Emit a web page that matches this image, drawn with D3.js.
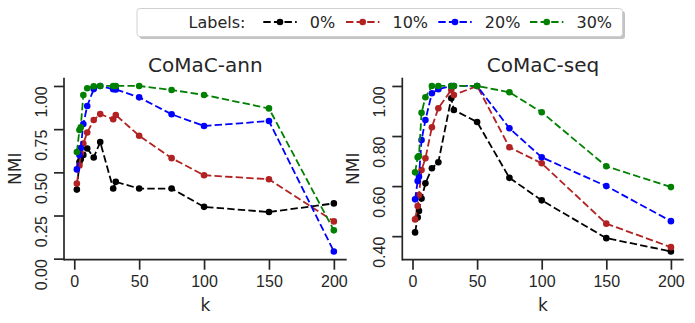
<!DOCTYPE html>
<html>
<head>
<meta charset="utf-8">
<script src="https://cdn.jsdelivr.net/npm/d3@7"></script>
<style>
  body { margin: 0; background: #fff; }
  svg { font-family: "DejaVu Sans", sans-serif; }
</style>
</head>
<body>
<div id="chart"></div>
<script>
// k values (shared by both panels)
var kValues = [2, 4, 5, 7, 10, 15, 20, 30, 32, 50, 75, 100, 150, 200];

// CoMaC-ann
var ann0  = [0.40, 0.56, 0.575, 0.60, 0.638, 0.586, 0.675, 0.406, 0.445, 0.406, 0.406, 0.30, 0.27, 0.32];
var ann10 = [0.435, 0.54, 0.61, 0.667, 0.731, 0.803, 0.837, 0.807, 0.832, 0.712, 0.582, 0.483, 0.46, 0.216];
var ann20 = [0.517, 0.60, 0.64, 0.78, 0.884, 0.982, 1.0, 0.981, 0.98, 0.934, 0.836, 0.768, 0.797, 0.042];
var ann30 = [0.617, 0.745, 0.76, 0.948, 0.987, 0.998, 1.0, 1.0, 1.0, 1.0, 0.977, 0.948, 0.87, 0.164];

// CoMaC-seq
var seq0  = [0.415, 0.475, 0.501, 0.55, 0.611, 0.671, 0.695, 0.951, 0.904, 0.856, 0.633, 0.543, 0.392, 0.339];
var seq10 = [0.467, 0.52, 0.564, 0.664, 0.711, 0.835, 0.911, 0.984, 0.964, 1.0, 0.755, 0.691, 0.45, 0.356];
var seq20 = [0.547, 0.62, 0.637, 0.784, 0.864, 0.971, 0.987, 1.0, 1.0, 1.0, 0.831, 0.715, 0.60, 0.46];
var seq30 = [0.655, 0.715, 0.72, 0.893, 0.955, 1.0, 1.0, 1.0, 1.0, 1.0, 0.975, 0.895, 0.679, 0.596];

var seriesLabels = ["0%", "10%", "20%", "30%"];
var seriesColors = ["#000000", "#b22222", "#0000ff", "#008000"];
var xTicks = [0, 50, 100, 150, 200];
var annYTicks = [0, 0.25, 0.5, 0.75, 1.0];
var seqYTicks = [0.4, 0.6, 0.8, 1.0];

var width = 695, height = 323;
var top0 = 77.7, bottom0 = 259.7;

var panels = [
  { title: "CoMaC-ann", series: [ann0, ann10, ann20, ann30], yTicks: annYTicks, left: 64, right: 346.7 },
  { title: "CoMaC-seq", series: [seq0, seq10, seq20, seq30], yTicks: seqYTicks, left: 402.3, right: 683.7 }
];

var svg = d3.select("#chart").append("svg")
  .attr("width", width)
  .attr("height", height)
  .attr("viewBox", [0, 0, width, height]);

// matplotlib style 5% margins
function padded(ext) {
  var d = ext[1] - ext[0];
  return [ext[0] - 0.05 * d, ext[1] + 0.05 * d];
}

var tickFont = 16;
var textColor = "#262626";
var dash = "7.4,3.2";

panels.forEach(function (p) {
  var allY = d3.merge(p.series);
  var x = d3.scaleLinear().domain(padded(d3.extent(kValues))).range([p.left, p.right]);
  var y = d3.scaleLinear().domain(padded(d3.extent(allY))).range([bottom0, top0]);

  var g = svg.append("g");

  // x axis
  var gx = g.append("g")
    .attr("transform", `translate(0,${bottom0})`)
    .call(d3.axisBottom(x).tickValues(xTicks).tickFormat(d3.format("d")).tickSize(10).tickPadding(5.5).tickSizeOuter(0));
  gx.select(".domain").remove();
  gx.selectAll("line").attr("stroke", textColor).attr("stroke-width", 1.7);
  gx.selectAll("text").attr("font-size", tickFont).attr("fill", textColor);

  // y axis with rotated labels
  var gy = g.append("g")
    .attr("transform", `translate(${p.left},0)`)
    .call(d3.axisLeft(y).tickValues(p.yTicks).tickFormat(d3.format(".2f")).tickSize(10).tickSizeOuter(0));
  gy.select(".domain").remove();
  gy.selectAll("line").attr("stroke", textColor).attr("stroke-width", 1.7);
  gy.selectAll("text")
    .attr("x", null).attr("dy", null)
    .attr("transform", "translate(-23,0) rotate(-90)")
    .attr("text-anchor", "end")
    .attr("dominant-baseline", "central")
    .attr("font-size", tickFont)
    .attr("fill", textColor);

  // spines (left + bottom only)
  g.append("line").attr("x1", p.left).attr("x2", p.left).attr("y1", top0).attr("y2", bottom0 + 0.85)
    .attr("stroke", textColor).attr("stroke-width", 1.7);
  g.append("line").attr("x1", p.left).attr("x2", p.right).attr("y1", bottom0).attr("y2", bottom0)
    .attr("stroke", textColor).attr("stroke-width", 1.7);

  // title and labels
  g.append("text").attr("x", (p.left + p.right) / 2).attr("y", 72)
    .attr("text-anchor", "middle").attr("font-size", 20).attr("fill", textColor).text(p.title);
  g.append("text").attr("x", (p.left + p.right) / 2).attr("y", 311)
    .attr("text-anchor", "middle").attr("font-size", 17).attr("fill", textColor).text("k");
  g.append("text")
    .attr("transform", `translate(${p.left - 49},${(top0 + bottom0) / 2}) rotate(-90)`)
    .attr("text-anchor", "middle").attr("dominant-baseline", "central")
    .attr("font-size", 17).attr("fill", textColor).text("NMI");

  var line = d3.line().x(function (d, i) { return x(kValues[i]); }).y(function (d) { return y(d); });

  p.series.forEach(function (vals, si) {
    var s = g.append("g");
    s.append("path").datum(vals)
      .attr("d", line)
      .attr("fill", "none")
      .attr("stroke", seriesColors[si])
      .attr("stroke-width", 1.8)
      .attr("stroke-dasharray", dash);
    s.selectAll("circle").data(vals).join("circle")
      .attr("cx", function (d, i) { return x(kValues[i]); })
      .attr("cy", function (d) { return y(d); })
      .attr("r", 3.3)
      .attr("fill", seriesColors[si]);
  });
});

// legend
var lg = svg.append("g");
var boxX = 137, boxY = 8.5, boxW = 485.5, boxH = 28;
lg.append("rect").attr("x", boxX + 2.5).attr("y", boxY + 2.5).attr("width", boxW).attr("height", boxH)
  .attr("rx", 3).attr("fill", "#888").attr("opacity", 0.5);
lg.append("rect").attr("x", boxX).attr("y", boxY).attr("width", boxW).attr("height", boxH)
  .attr("rx", 3).attr("fill", "#fff").attr("stroke", "#d0d0d0").attr("stroke-width", 1);

var legY = boxY + boxH / 2 - 0.5;
var handleStarts = [263.3, 346, 438.3, 530];  // legend column positions
lg.append("text").attr("x", 188.5).attr("y", legY + 5.8)
  .attr("font-size", tickFont).attr("fill", textColor).text("Labels:");
seriesLabels.forEach(function (lab, i) {
  var hx = handleStarts[i];
  lg.append("line").attr("x1", hx).attr("x2", hx + 33.4).attr("y1", legY).attr("y2", legY)
    .attr("stroke", seriesColors[i]).attr("stroke-width", 1.8).attr("stroke-dasharray", dash);
  lg.append("circle").attr("cx", hx + 16.7).attr("cy", legY).attr("r", 3.3).attr("fill", seriesColors[i]);
  lg.append("text").attr("x", hx + 46.5).attr("y", legY + 5.8)
    .attr("font-size", tickFont).attr("fill", textColor).text(lab);
});
</script>
</body>
</html>
